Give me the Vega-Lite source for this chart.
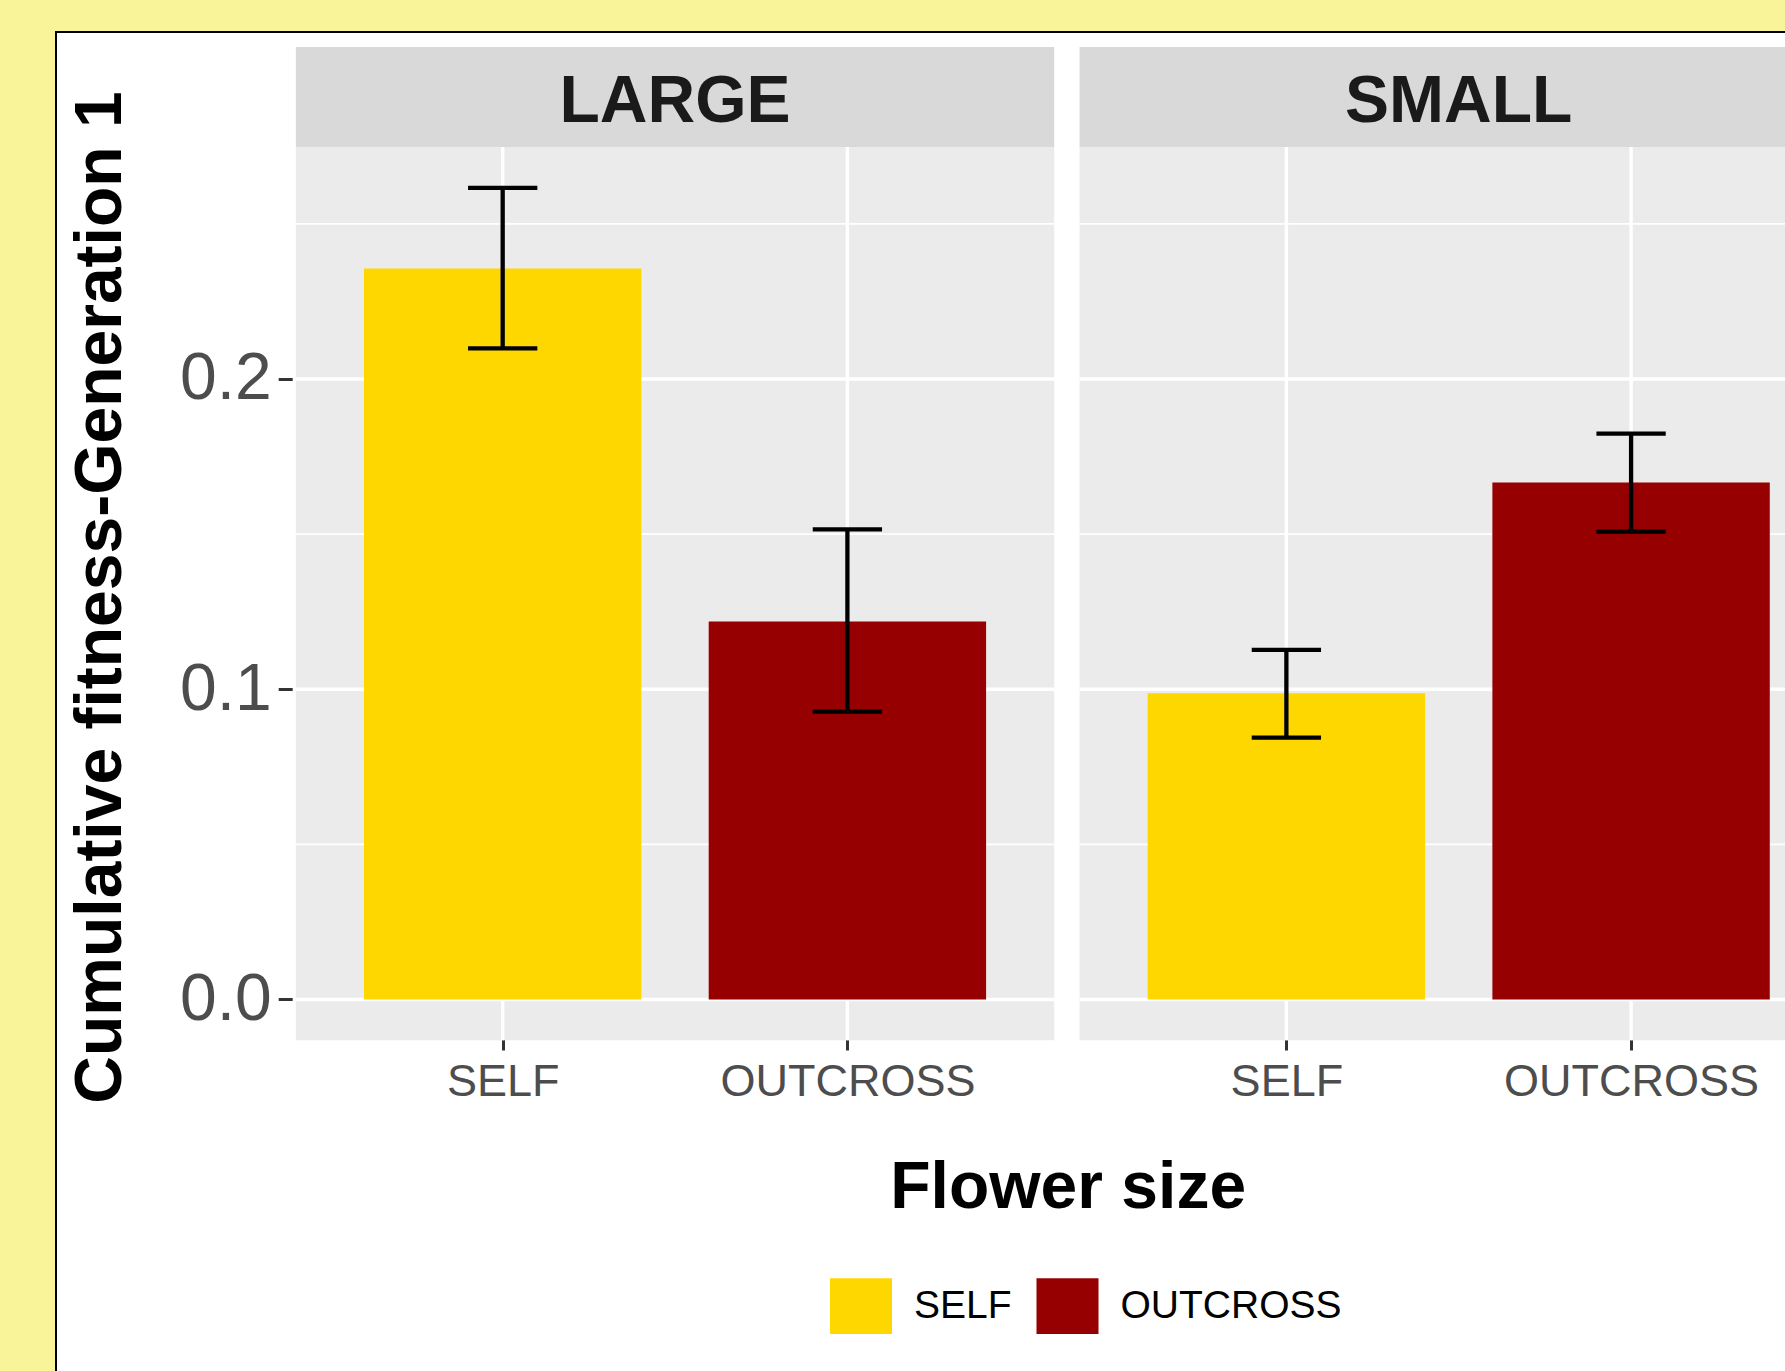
{
  "$schema": "https://vega.github.io/schema/vega-lite/v6.json",
  "width": 1739,
  "height": 1349,
  "autosize": {"type": "none"},
  "padding": {"left": 56, "top": 32, "right": -10, "bottom": -10},
  "background": "#F9F49A",
  "view": {"fill": "#FFFFFF", "stroke": "#000000", "strokeWidth": 2},
  "config": {"font": "Liberation Sans"},
  "datasets": {
    "panels": [
      {"size": "LARGE", "x0": 0.4, "x1": 2.6, "xc": 1.5},
      {"size": "SMALL", "x0": 2.6735, "x1": 4.8735, "xc": 3.7735}
    ],
    "grid": [
      {"size": "LARGE", "x0": 0.4, "x1": 2.6, "y": 0.0, "kind": "major"},
      {"size": "LARGE", "x0": 0.4, "x1": 2.6, "y": 0.1, "kind": "major"},
      {"size": "LARGE", "x0": 0.4, "x1": 2.6, "y": 0.2, "kind": "major"},
      {"size": "LARGE", "x0": 0.4, "x1": 2.6, "y": 0.05, "kind": "minor"},
      {"size": "LARGE", "x0": 0.4, "x1": 2.6, "y": 0.15, "kind": "minor"},
      {"size": "LARGE", "x0": 0.4, "x1": 2.6, "y": 0.25, "kind": "minor"},
      {"size": "SMALL", "x0": 2.6735, "x1": 4.8735, "y": 0.0, "kind": "major"},
      {"size": "SMALL", "x0": 2.6735, "x1": 4.8735, "y": 0.1, "kind": "major"},
      {"size": "SMALL", "x0": 2.6735, "x1": 4.8735, "y": 0.2, "kind": "major"},
      {"size": "SMALL", "x0": 2.6735, "x1": 4.8735, "y": 0.05, "kind": "minor"},
      {"size": "SMALL", "x0": 2.6735, "x1": 4.8735, "y": 0.15, "kind": "minor"},
      {"size": "SMALL", "x0": 2.6735, "x1": 4.8735, "y": 0.25, "kind": "minor"}
    ],
    "fitness": [
      {"size": "LARGE", "treatment": "SELF", "pos": 1, "mean": 0.2356, "lo": 0.2099, "hi": 0.2616},
      {"size": "LARGE", "treatment": "OUTCROSS", "pos": 2, "mean": 0.1218, "lo": 0.0928, "hi": 0.1515},
      {"size": "SMALL", "treatment": "SELF", "pos": 3.2735, "mean": 0.0987, "lo": 0.0844, "hi": 0.1127},
      {"size": "SMALL", "treatment": "OUTCROSS", "pos": 4.2735, "mean": 0.1666, "lo": 0.1508, "hi": 0.1824}
    ]
  },
  "layer": [
    {
      "data": {"name": "panels"},
      "mark": {"type": "rect", "fill": "#EBEBEB", "clip": true},
      "encoding": {
        "x": {
          "field": "x0", "type": "quantitative",
          "scale": {"domain": [-0.28135, 4.73451], "nice": false, "zero": false},
          "axis": {
            "orient": "bottom", "offset": -342, "values": [1, 2, 3.2735, 4.2735],
            "labelExpr": "(datum.value < 1.5 || (datum.value > 2.5 && datum.value < 3.8)) ? 'SELF' : 'OUTCROSS'",
            "grid": false, "domain": false, "ticks": true, "tickSize": 11, "tickWidth": 3, "tickColor": "#333333",
            "labelFontSize": 45, "labelColor": "#4D4D4D", "labelPadding": 9, "labelFlush": false, "labelOverlap": false, "labelBound": false, "labelLimit": 1000,
            "title": "Flower size", "titleFontSize": 66, "titleFontWeight": "bold", "titleColor": "#000000",
            "titleX": 1011.7, "titleY": 168, "titleBaseline": "alphabetic", "titleAlign": "center"
          }
        },
        "x2": {"field": "x1"},
        "y": {
          "datum": -0.0131, "type": "quantitative",
          "scale": {"domain": [-0.12297, 0.311845], "nice": false, "zero": false},
          "axis": {
            "orient": "left", "offset": -236.2, "values": [0, 0.1, 0.2], "format": ".1f",
            "grid": false, "domain": false, "ticks": true, "tickSize": 14, "tickWidth": 3, "tickColor": "#333333",
            "labelFontSize": 66, "labelColor": "#4D4D4D", "labelPadding": 7, "labelFlush": false, "labelOverlap": false, "labelBound": false,
            "title": "Cumulative fitness-Generation 1", "titleFontSize": 66, "titleFontWeight": "bold", "titleColor": "#000000",
            "titleX": -172.2, "titleY": 565, "titleBaseline": "alphabetic", "titleAlign": "center", "titleAngle": 270
          }
        },
        "y2": {"datum": 0.2748}
      }
    },
    {
      "data": {"name": "grid"},
      "transform": [{"filter": "datum.kind == 'minor'"}],
      "mark": {"type": "rule", "stroke": "#FFFFFF", "strokeWidth": 1.7, "clip": true},
      "encoding": {
        "x": {"field": "x0", "type": "quantitative"},
        "x2": {"field": "x1"},
        "y": {"field": "y", "type": "quantitative"}
      }
    },
    {
      "data": {"name": "grid"},
      "transform": [{"filter": "datum.kind == 'major'"}],
      "mark": {"type": "rule", "stroke": "#FFFFFF", "strokeWidth": 3.4, "clip": true},
      "encoding": {
        "x": {"field": "x0", "type": "quantitative"},
        "x2": {"field": "x1"},
        "y": {"field": "y", "type": "quantitative"}
      }
    },
    {
      "data": {"name": "fitness"},
      "mark": {"type": "rule", "stroke": "#FFFFFF", "strokeWidth": 3.4},
      "encoding": {
        "x": {"field": "pos", "type": "quantitative"},
        "y": {"datum": -0.0131, "type": "quantitative"},
        "y2": {"datum": 0.2748}
      }
    },
    {
      "data": {"name": "fitness"},
      "mark": {"type": "bar", "width": 277.4, "orient": "vertical"},
      "encoding": {
        "x": {"field": "pos", "type": "quantitative"},
        "y": {"field": "mean", "type": "quantitative"},
        "y2": {"datum": 0},
        "color": {
          "field": "treatment", "type": "nominal",
          "scale": {"domain": ["SELF", "OUTCROSS"], "range": ["#FFD700", "#960000"]},
          "legend": {
            "orient": "none", "legendX": 774, "legendY": 1243, "direction": "horizontal", "title": null,
            "symbolType": "M-1,-0.9H1V0.9H-1Z", "symbolSize": 3844, "symbolStrokeWidth": 0, "symbolOpacity": 1,
            "labelFontSize": 39, "labelColor": "#000000", "labelOffset": 22, "columnPadding": 24.5, "padding": 0, "labelLimit": 400
          }
        }
      }
    },
    {
      "data": {"name": "fitness"},
      "mark": {"type": "rule", "stroke": "#000000", "strokeWidth": 4.3},
      "encoding": {
        "x": {"field": "pos", "type": "quantitative"},
        "y": {"field": "lo", "type": "quantitative"},
        "y2": {"field": "hi"}
      }
    },
    {
      "data": {"name": "fitness"},
      "mark": {"type": "tick", "orient": "horizontal", "size": 69.3, "thickness": 4.3, "color": "#000000", "opacity": 1},
      "encoding": {
        "x": {"field": "pos", "type": "quantitative"},
        "y": {"field": "lo", "type": "quantitative"}
      }
    },
    {
      "data": {"name": "fitness"},
      "mark": {"type": "tick", "orient": "horizontal", "size": 69.3, "thickness": 4.3, "color": "#000000", "opacity": 1},
      "encoding": {
        "x": {"field": "pos", "type": "quantitative"},
        "y": {"field": "hi", "type": "quantitative"}
      }
    },
    {
      "data": {"name": "panels"},
      "mark": {"type": "rect", "fill": "#D9D9D9", "clip": true},
      "encoding": {
        "x": {"field": "x0", "type": "quantitative"},
        "x2": {"field": "x1"},
        "y": {"datum": 0.2748, "type": "quantitative"},
        "y2": {"datum": 0.307}
      }
    },
    {
      "data": {"name": "panels"},
      "mark": {"type": "text", "fontSize": 66, "fontWeight": "bold", "color": "#1A1A1A", "align": "center", "baseline": "middle"},
      "encoding": {
        "x": {"field": "xc", "type": "quantitative"},
        "y": {"datum": 0.2894, "type": "quantitative"},
        "text": {"field": "size"}
      }
    }
  ]
}
